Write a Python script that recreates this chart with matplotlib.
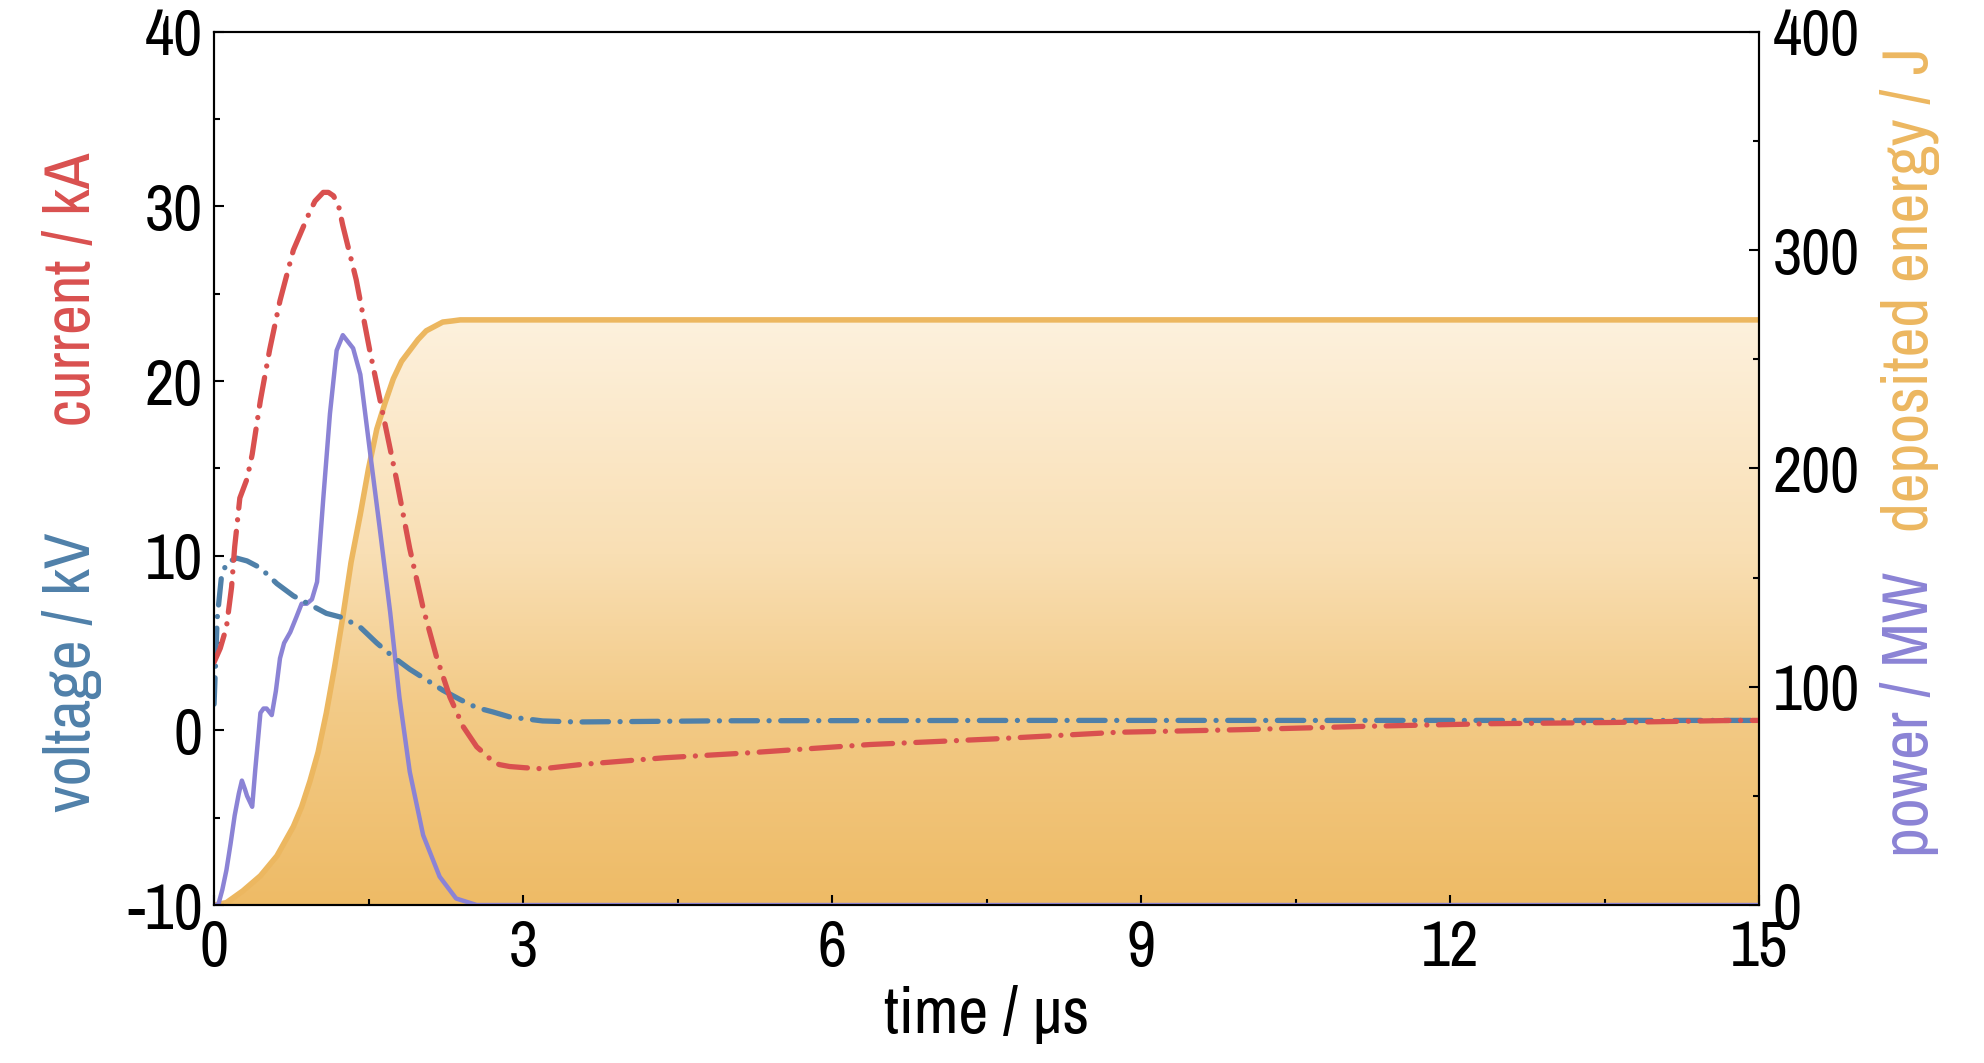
import numpy as np
import matplotlib
matplotlib.use('Agg')
import matplotlib.pyplot as plt
from matplotlib import font_manager
from matplotlib.colors import LinearSegmentedColormap
from matplotlib.ticker import MultipleLocator

# pick a narrow sans face if one is installed
installed = {f.name for f in font_manager.fontManager.ttflist}
narrow = [n for n in ['Liberation Sans Narrow', 'Arial Narrow', 'Archivo Narrow', 'PT Sans Narrow',
                      'Roboto Condensed', 'Fira Sans Condensed', 'IBM Plex Sans Condensed',
                      'Sofia Sans Condensed', 'Barlow Semi Condensed'] if n in installed]
plt.rcParams['font.family'] = narrow[:1] + ['DejaVu Sans']
plt.rcParams['axes.unicode_minus'] = False

# current / kA
t_cur = [0, 0.06, 0.12, 0.17, 0.2, 0.22, 0.25, 0.32, 0.37, 0.45, 0.54, 0.64, 0.77, 0.93, 0.98,
         1.06, 1.11, 1.16, 1.21, 1.25, 1.38, 1.51, 1.64, 1.77, 1.9, 2.03, 2.16, 2.29, 2.42, 2.55,
         2.63, 2.71, 2.77, 2.87, 3.02, 3.19, 3.57, 4.37, 5.18, 6.37, 7.57, 8.77, 9.97, 11.17,
         12.37, 13.56, 14.76, 15]
current = [3.9, 4.7, 5.9, 8.2, 10.5, 11.6, 13.3, 14.4, 15.8, 18.9, 21.8, 24.6, 27.5, 29.7, 30.3,
           30.8, 30.8, 30.6, 30.0, 28.9, 25.8, 21.8, 18.1, 14.4, 10.4, 7.0, 4.2, 1.9, 0.2, -0.94,
           -1.36, -1.8, -1.96, -2.07, -2.14, -2.2, -1.95, -1.57, -1.29, -0.81, -0.49, -0.11, 0.04, 0.23,
           0.38, 0.45, 0.57, 0.57]

# voltage / kV
t_volt = [0, 0.03, 0.07, 0.12, 0.22, 0.32, 0.45, 0.61, 0.77, 0.93, 1.09, 1.25, 1.42, 1.58,
          1.74, 1.9, 2.06, 2.22, 2.39, 2.55, 2.71, 2.87, 3.19, 3.52, 5, 8, 11, 15]
voltage = [1.5, 6.4, 8.7, 9.6, 9.86, 9.7, 9.3, 8.4, 7.7, 7.2, 6.7, 6.45, 5.9, 5.0,
           4.2, 3.5, 2.9, 2.3, 1.76, 1.3, 1.05, 0.77, 0.54, 0.48, 0.55, 0.57, 0.57, 0.57]

# power / MW
t_pow = [0, 0.04, 0.08, 0.12, 0.16, 0.2, 0.24, 0.27, 0.3, 0.32, 0.35, 0.37, 0.4, 0.45, 0.48,
         0.51, 0.56, 0.6, 0.64, 0.68, 0.74, 0.8, 0.85, 0.9, 0.95, 1.0, 1.06, 1.125, 1.19, 1.25,
         1.3, 1.35, 1.42, 1.51, 1.61, 1.71, 1.8, 1.9, 2.03, 2.19, 2.35, 2.55, 3, 6, 9, 12, 15]
power = [0, 0, 7, 16, 28, 41, 51, 57, 53, 50, 47, 45, 62, 88, 90,
         90, 87, 98, 113, 120, 125, 132, 138, 138, 140, 148, 186, 225, 254, 261,
         258, 255, 243, 209, 172, 134, 95, 61, 32, 13, 3, 0, 0, 0, 0, 0, 0]

# deposited energy / J
t_en = [0, 0.12, 0.28, 0.45, 0.61, 0.77, 0.85, 0.93, 1.01, 1.09, 1.17, 1.25, 1.33, 1.42, 1.5,
        1.58, 1.66, 1.74, 1.82, 1.9, 1.98, 2.06, 2.14, 2.22, 2.31, 2.39, 2.6, 3, 5, 8, 11, 15]
energy = [0, 1.1, 6.5, 13.4, 22.5, 36, 45, 56.6, 70, 88, 109, 132, 157, 179, 200,
          218, 230, 241, 249, 254, 259, 263, 265, 267, 267.5, 268, 268, 268, 268, 268, 268, 268]

c_cur = '#D9504F'
c_volt = '#4F80A9'
c_pow = '#8B83D5'
c_en = '#ECB760'

fig = plt.figure(figsize=(19.84, 10.63), dpi=100)
ax_e = fig.add_axes([0.1079, 0.1486, 0.7787, 0.8216])
ax = ax_e.twinx()

# energy fill with vertical gradient
poly = ax_e.fill_between(t_en, 0, energy, facecolor='none', edgecolor='none')
cmap = LinearSegmentedColormap.from_list(
    'en', [(0, '#EEBB66'), (0.35, '#F3CB88'), (0.6, '#F9DFB4'), (1, '#FDF1DD')])
grad = np.linspace(0, 1, 256).reshape(-1, 1)
img = ax_e.imshow(grad, extent=[0, 15, 0, max(energy)], origin='lower', aspect='auto',
                  cmap=cmap, zorder=1)
img.set_clip_path(poly.get_paths()[0], transform=ax_e.transData)
ax_e.plot(t_en, energy, color=c_en, lw=4.0, zorder=2, solid_joinstyle='round')
ax_e.plot(t_pow, power, color=c_pow, lw=3.2, zorder=3, solid_joinstyle='round')

ax.plot(t_volt, voltage, color=c_volt, lw=3.8, dashes=(5, 2.2, 0.01, 2.2),
        dash_capstyle='round')
ax.plot(t_cur, current, color=c_cur, lw=3.8, dashes=(5.5, 2.2, 0.01, 2.2),
        dash_capstyle='round')

ax_e.set_xlim(0, 15)
ax_e.set_ylim(0, 400)
ax.set_ylim(-10, 40)

ax_e.yaxis.tick_right()
ax.yaxis.tick_left()

ax_e.xaxis.set_major_locator(MultipleLocator(3))
ax_e.xaxis.set_minor_locator(MultipleLocator(1.5))
ax_e.yaxis.set_major_locator(MultipleLocator(100))
ax_e.yaxis.set_minor_locator(MultipleLocator(50))
ax.yaxis.set_major_locator(MultipleLocator(10))
ax.yaxis.set_minor_locator(MultipleLocator(5))

for a in (ax_e, ax):
    a.tick_params(which='both', direction='in', width=1.5, labelsize=46, top=False)
    a.tick_params(which='major', length=7)
    a.tick_params(which='minor', length=4)
    for s in a.spines.values():
        s.set_linewidth(1.5)
ax_e.tick_params(axis='x', pad=10)
ax_e.tick_params(axis='y', pad=10, left=False, right=True)
ax.tick_params(axis='y', pad=8, left=True, right=False)

ax_e.set_xlabel('time / μs', fontsize=47, labelpad=6)

lab = dict(fontsize=47, rotation=90, rotation_mode='anchor', ha='center', va='baseline')
fig.text(90 / 1984, 1 - 289 / 1063, 'current / kA', color=c_cur, **lab)
fig.text(90 / 1984, 1 - 672 / 1063, 'voltage / kV', color=c_volt, **lab)
fig.text(1928 / 1984, 1 - 290 / 1063, 'deposited energy / J', color=c_en, **lab)
fig.text(1928 / 1984, 1 - 714 / 1063, 'power / MW', color=c_pow, **lab)

fig.savefig('out.png', dpi=100)
